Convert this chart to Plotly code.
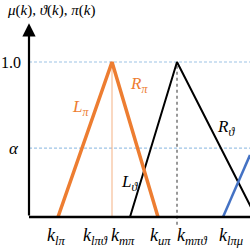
import plotly.graph_objects as go

# pixel-like horizontal positions (k units), membership values on y
PX_PER_UNIT = 155.0
Y0_PIX = 217.0

axis_x = [29, 250]
axis_top = 1.25

one_level = 1.0
alpha_level = 0.445

# orange triangle (pi)
pi_x = [58, 112, 158]
pi_y = [0, 1.0, 0]
# black triangle (theta)
th_x = [130, 177, 256]
th_y = [0, 1.0, 0]
# blue line (mu)
mu_x = [223, 250]
mu_y = [0, 0.40]

tick_labels = ["k<sub>lπ</sub>", "k<sub>lπϑ</sub>", "k<sub>mπ</sub>", "k<sub>uπ</sub>", "k<sub>mπϑ</sub>", "k<sub>lπμ</sub>"]
tick_pos = [56, 95, 123, 160, 192, 231]

ORANGE = "#ED7D31"
BLUE = "#4472C4"
DASH = "#9DC3E6"

fig = go.Figure()

# dashed reference lines
for lv in [one_level, alpha_level]:
    fig.add_trace(go.Scatter(x=[axis_x[0], axis_x[1]], y=[lv, lv], mode="lines",
                             line=dict(color=DASH, width=1.2, dash="3px,2px"), hoverinfo="skip"))

# thin orange vertical at pi peak
fig.add_trace(go.Scatter(x=[pi_x[1], pi_x[1]], y=[0, pi_y[1]], mode="lines",
                         line=dict(color="#F4B183", width=1), hoverinfo="skip"))
# black dotted vertical at theta peak
fig.add_trace(go.Scatter(x=[th_x[1], th_x[1]], y=[-0.05, th_y[1]], mode="lines",
                         line=dict(color="#333333", width=1, dash="dot"), hoverinfo="skip"))

fig.add_trace(go.Scatter(x=th_x, y=th_y, mode="lines", line=dict(color="black", width=2), hoverinfo="skip"))
fig.add_trace(go.Scatter(x=mu_x, y=mu_y, mode="lines", line=dict(color=BLUE, width=2.5), hoverinfo="skip"))
fig.add_trace(go.Scatter(x=pi_x, y=pi_y, mode="lines", line=dict(color=ORANGE, width=3.5), hoverinfo="skip"))

# axes
fig.add_trace(go.Scatter(x=axis_x, y=[0, 0], mode="lines", line=dict(color="black", width=2.5), hoverinfo="skip"))
fig.add_annotation(x=axis_x[0], y=axis_top, ax=axis_x[0], ay=0, xref="x", yref="y", axref="x", ayref="y",
                   showarrow=True, arrowhead=2, arrowsize=1.2, arrowwidth=2.2, arrowcolor="black", text="")

serif = "Liberation Serif"

def txt(x, y, s, size=15, color="black"):
    fig.add_annotation(x=x, y=y, text=s, showarrow=False, xref="x", yref="y",
                       font=dict(family=serif, size=size, color=color))

txt(51, (Y0_PIX - 10) / PX_PER_UNIT, "<i>μ</i>(<i>k</i>), <i>ϑ</i>(<i>k</i>), <i>π</i>(<i>k</i>)", size=15)
txt(11, one_level, "1.0", size=16)
txt(14, alpha_level, "<i>α</i>", size=17)
txt(80, (Y0_PIX - 108) / PX_PER_UNIT, "<i>L<sub>π</sub></i>", size=17, color=ORANGE)
txt(139, (Y0_PIX - 85) / PX_PER_UNIT, "<i>R<sub>π</sub></i>", size=17, color=ORANGE)
txt(129, (Y0_PIX - 183) / PX_PER_UNIT, "<i>L<sub>ϑ</sub></i>", size=17)
txt(226, (Y0_PIX - 128) / PX_PER_UNIT, "<i>R<sub>ϑ</sub></i>", size=17)

for p, lab in zip(tick_pos, tick_labels):
    txt(p, (Y0_PIX - 236) / PX_PER_UNIT, "<i>" + lab + "</i>", size=18)

fig.update_layout(width=250, height=250, margin=dict(l=0, r=0, t=0, b=0),
                  paper_bgcolor="white", plot_bgcolor="white", showlegend=False,
                  xaxis=dict(visible=False, range=[0, 250], fixedrange=True),
                  yaxis=dict(visible=False, range=[(Y0_PIX - 250) / PX_PER_UNIT, Y0_PIX / PX_PER_UNIT], fixedrange=True))

fig.write_html("out.html")
